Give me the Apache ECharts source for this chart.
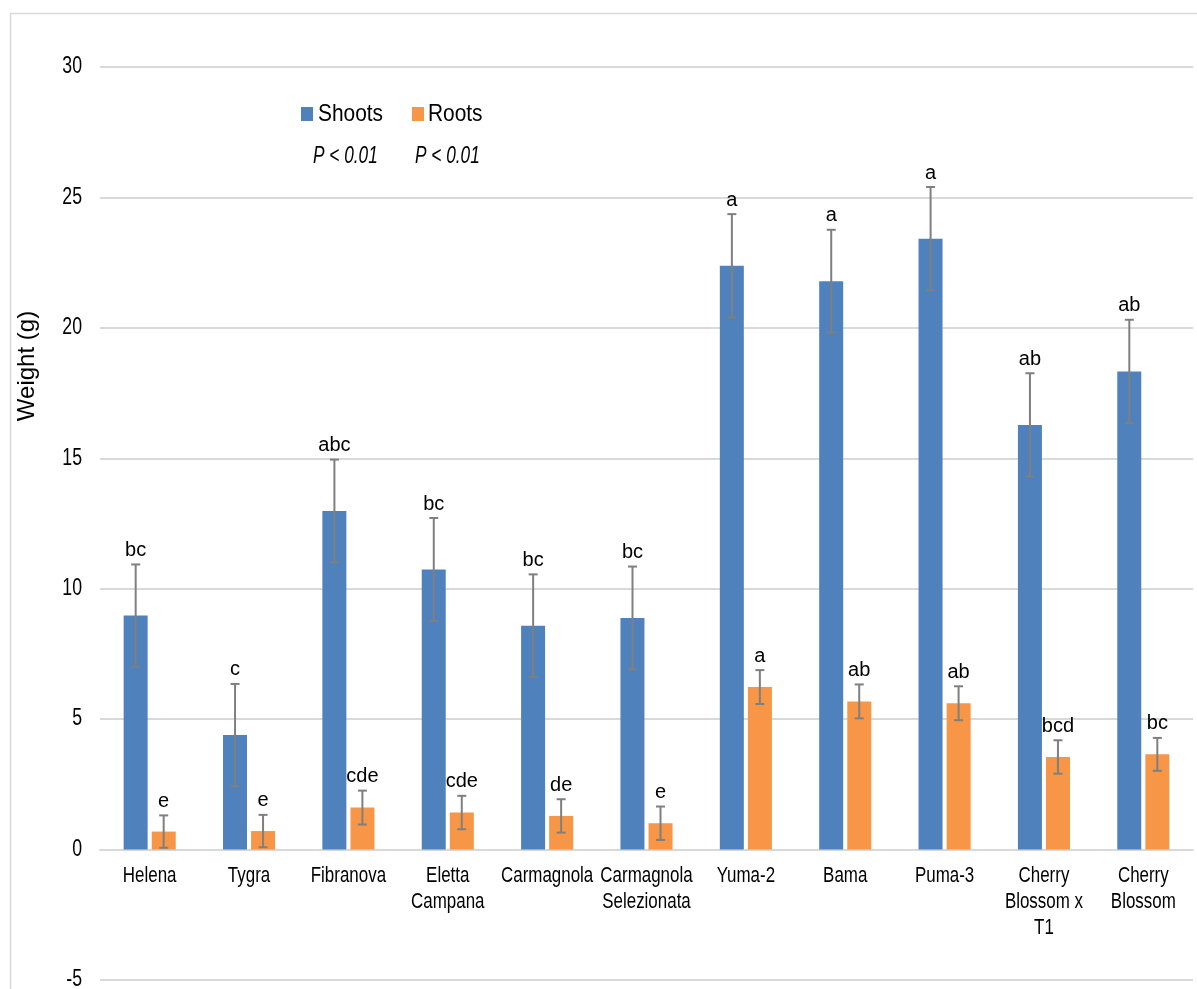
<!DOCTYPE html>
<html>
<head>
<meta charset="utf-8">
<script src="https://cdn.jsdelivr.net/npm/echarts@6/dist/echarts.min.js"></script>
<style>
  html, body { margin: 0; padding: 0; background: #fff; }
  #chart { width: 1197px; height: 989px; }
</style>
</head>
<body>
<div id="chart"></div>
<script>
// Fresh weight of shoots and roots per cultivar (mean ± SE) with Tukey letters
const categories = ['Helena', 'Tygra', 'Fibranova', 'Eletta\nCampana', 'Carmagnola',
  'Carmagnola\nSelezionata', 'Yuma-2', 'Bama', 'Puma-3', 'Cherry\nBlossom x\nT1', 'Cherry\nBlossom'];
const shoots = [8.97, 4.39, 12.98, 10.74, 8.58, 8.88, 22.38, 21.79, 23.42, 16.28, 18.33];
const shootsErr = [1.96, 1.96, 1.97, 1.97, 1.97, 1.97, 1.98, 1.97, 1.98, 1.98, 1.98];
const roots = [0.69, 0.71, 1.61, 1.42, 1.29, 1.01, 6.23, 5.68, 5.61, 3.55, 3.65];
const rootsErr = [0.62, 0.62, 0.65, 0.64, 0.64, 0.64, 0.65, 0.65, 0.65, 0.64, 0.63];
const shootsLetters = ['bc', 'c', 'abc', 'bc', 'bc', 'bc', 'a', 'a', 'a', 'ab', 'ab'];
const rootsLetters = ['e', 'e', 'cde', 'cde', 'de', 'e', 'a', 'ab', 'ab', 'bcd', 'bc'];
const yTickLabels = [-5, 0, 5, 10, 15, 20, 25, 30];
const seriesNames = ['Shoots', 'Roots'];
const pValueText = ['P < 0.01', 'P < 0.01'];

const SANS = "'Liberation Sans', Arial, sans-serif";
const COLORS = ['#4f81bd', '#f79646'];
const BAR_W = 24;
const HALF_SPAN = 14;
const GRID = { left: 100, right: 4, top: 67, bottom: 9 };

function errorSeries(values, errs, letters, offset) {
  return {
    type: 'custom',
    z: 5,
    clip: false,
    silent: true,
    data: values.map((v, i) => [i, v, errs[i]]),
    renderItem: function (params, api) {
      const i = api.value(0), v = api.value(1), e = api.value(2);
      const x = api.coord([i, v])[0] + offset;
      const yTop = api.coord([i, v + e])[1];
      const yBot = api.coord([i, v - e])[1];
      const lineStyle = { stroke: '#7f7f7f', lineWidth: 2 };
      return {
        type: 'group',
        children: [
          { type: 'line', shape: { x1: x, y1: yTop, x2: x, y2: yBot }, style: lineStyle },
          { type: 'line', shape: { x1: x - 4.5, y1: yTop, x2: x + 4.5, y2: yTop }, style: lineStyle },
          { type: 'line', shape: { x1: x - 4.5, y1: yBot, x2: x + 4.5, y2: yBot }, style: lineStyle },
          {
            type: 'text',
            style: {
              text: letters[params.dataIndex], x: x, y: yTop - 4,
              align: 'center', verticalAlign: 'bottom',
              fontSize: 20, fontFamily: SANS, fill: '#000'
            }
          }
        ]
      };
    }
  };
}

// Category names under the zero line, drawn condensed
const categoryLabelSeries = {
  type: 'custom', z: 6, clip: false, silent: true,
  data: categories.map((c, i) => [i, 0]),
  renderItem: function (params, api) {
    const p = api.coord([api.value(0), api.value(1)]);
    return {
      type: 'text', x: p[0], y: p[1] + 13, scaleX: 0.77,
      style: {
        text: categories[params.dataIndex], x: 0, y: 0,
        align: 'center', verticalAlign: 'top',
        fontSize: 22, lineHeight: 26, fontFamily: SANS, fill: '#000'
      }
    };
  }
};

// Value labels beside the gridlines, drawn condensed
const valueLabelSeries = {
  type: 'custom', z: 6, clip: false, silent: true,
  data: yTickLabels.map(v => [0, v]),
  renderItem: function (params, api) {
    const p = api.coord([api.value(0), api.value(1)]);
    return {
      type: 'text', x: GRID.left - 18, y: p[1], scaleX: 0.77,
      style: {
        text: String(yTickLabels[params.dataIndex]), x: 0, y: 0,
        align: 'right', verticalAlign: 'middle',
        fontSize: 23, fontFamily: SANS, fill: '#000'
      }
    };
  }
};

const legendGraphics = [];
const legendPos = [{ x: 301, tx: 318 }, { x: 412, tx: 428 }];
seriesNames.forEach((name, k) => {
  legendGraphics.push({
    type: 'rect', shape: { x: legendPos[k].x, y: 107, width: 12, height: 14 },
    style: { fill: COLORS[k] }
  });
  legendGraphics.push({
    type: 'text', x: legendPos[k].tx, y: 114, scaleX: 0.87,
    style: { text: name, x: 0, y: 0, verticalAlign: 'middle', fontSize: 24, fontFamily: SANS, fill: '#000' }
  });
  legendGraphics.push({
    type: 'text', x: [313, 415][k], y: 157, scaleX: 0.75,
    style: {
      text: pValueText[k], x: 0, y: 0, verticalAlign: 'middle',
      fontSize: 23, fontStyle: 'italic', fontFamily: SANS, fill: '#000'
    }
  });
});

const chart = echarts.init(document.getElementById('chart'), null, { renderer: 'canvas' });
chart.setOption({
  animation: false,
  backgroundColor: '#fff',
  grid: Object.assign({ containLabel: false, outerBoundsMode: 'none' }, GRID),
  xAxis: {
    type: 'category',
    data: categories,
    axisLine: { show: true, onZero: true, lineStyle: { color: '#d9d9d9', width: 2 } },
    axisTick: { show: false },
    axisLabel: { show: false }
  },
  yAxis: {
    type: 'value',
    min: yTickLabels[0], max: yTickLabels[yTickLabels.length - 1], interval: 5,
    axisLine: { show: false },
    axisTick: { show: false },
    splitLine: { lineStyle: { color: '#d9d9d9', width: 2 } },
    axisLabel: { show: false }
  },
  graphic: [
    {
      type: 'rect', silent: true, z: -10,
      shape: { x: 10.5, y: 13.5, width: 1300, height: 1100 },
      style: { fill: 'none', stroke: '#d9d9d9', lineWidth: 1.5 }
    },
    {
      type: 'text', x: 27, y: 366, rotation: Math.PI / 2,
      style: {
        text: 'Weight (g)', align: 'center', verticalAlign: 'middle',
        fontSize: 24, fontFamily: SANS, fill: '#000'
      }
    }
  ].concat(legendGraphics),
  series: [
    {
      name: seriesNames[0], type: 'bar', data: shoots, barWidth: BAR_W, barGap: '17%',
      itemStyle: { color: COLORS[0] }
    },
    {
      name: seriesNames[1], type: 'bar', data: roots, barWidth: BAR_W, barGap: '17%',
      itemStyle: { color: COLORS[1] }
    },
    errorSeries(shoots, shootsErr, shootsLetters, -HALF_SPAN),
    errorSeries(roots, rootsErr, rootsLetters, HALF_SPAN),
    categoryLabelSeries,
    valueLabelSeries
  ]
});
</script>
</body>
</html>
